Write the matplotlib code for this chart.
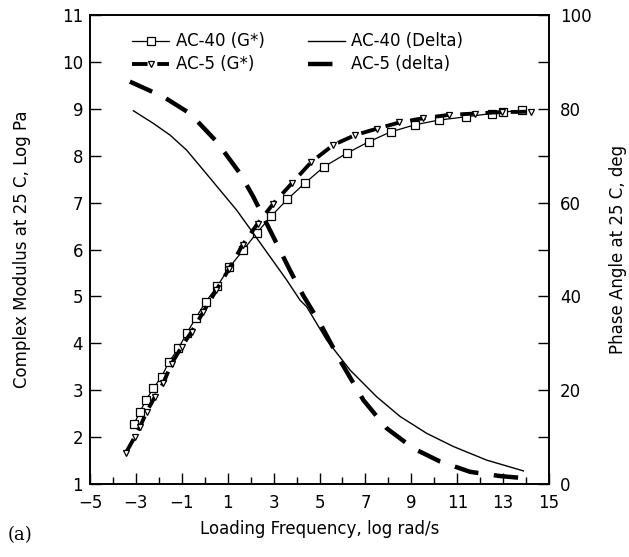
import numpy as np
import matplotlib
matplotlib.use("Agg")
import matplotlib.pyplot as plt
from matplotlib.ticker import MultipleLocator

# AC-40 complex modulus (log Pa) vs loading frequency (log rad/s)
ac40_gx = [-3.07, -2.82, -2.56, -2.24, -1.88, -1.55, -1.15, -0.79, -0.38, 0.05,
           0.55, 1.07, 1.68, 2.26, 2.89, 3.60, 4.37, 5.21, 6.18, 7.15, 8.11,
           9.16, 10.2, 11.37, 12.5, 13.0, 13.8]
ac40_gy = [2.29, 2.54, 2.79, 3.04, 3.29, 3.61, 3.89, 4.21, 4.55, 4.89,
           5.22, 5.62, 5.99, 6.35, 6.71, 7.07, 7.42, 7.77, 8.05, 8.30, 8.51,
           8.66, 8.76, 8.83, 8.90, 8.93, 8.97]

# AC-5 complex modulus
ac5_gx = [-3.43, -3.04, -2.82, -2.53, -2.17, -1.81, -1.44, -1.0, -0.57, -0.06,
          0.5, 1.05, 1.65, 2.3, 2.99, 3.79, 4.65, 5.6, 6.55, 7.52, 8.48,
          9.52, 10.62, 11.77, 12.93, 14.2]
ac5_gy = [1.67, 2.01, 2.22, 2.54, 2.86, 3.15, 3.57, 3.93, 4.25, 4.67,
          5.13, 5.58, 6.10, 6.55, 6.98, 7.41, 7.87, 8.23, 8.44, 8.58, 8.71,
          8.80, 8.87, 8.90, 8.93, 8.94]

# phase angle (deg)
ac40_dx = [-3.11, -2.24, -1.51, -0.79, -0.07, 0.66, 1.39, 2.11, 2.84, 3.57,
           4.15, 4.44, 5.31, 6.33, 7.49, 8.51, 9.67, 10.83, 12.28, 13.88]
ac40_dy = [79.6, 76.9, 74.4, 71.2, 67.0, 62.7, 58.4, 53.5, 48.5, 43.5,
           39.2, 37.8, 30.7, 24.3, 18.6, 14.4, 10.8, 8.0, 5.1, 2.8]

ac5_dx = [-3.26, -1.81, -0.64, 0.52, 1.54, 2.11, 2.55, 3.13, 3.71, 4.29, 5.02,
          5.89, 6.91, 7.92, 9.09, 10.25, 11.56, 12.86, 14.03]
ac5_dy = [85.8, 82.6, 79.0, 73.0, 66.2, 61.3, 57.0, 51.3, 45.6, 40.2, 34.3,
          26.4, 17.9, 11.9, 7.6, 4.8, 2.6, 1.7, 1.2]

plt.rcParams['font.family'] = 'DejaVu Sans'

fig = plt.figure(figsize=(6.29, 5.57), dpi=100)
ax = fig.add_axes([0.143, 0.131, 0.730, 0.842])
ax2 = ax.twinx()

l1, = ax.plot(ac40_gx, ac40_gy, color='black', lw=0.9, marker='s', ms=5.5,
              mfc='white', mec='black', mew=0.9, label='AC-40 (G*)')
l3, = ax.plot(ac5_gx, ac5_gy, color='black', lw=2.8, ls=(0, (4, 2.5)),
              marker='v', ms=4, mfc='white', mec='black', mew=0.9,
              label='AC-5 (G*)')
l2, = ax2.plot(ac40_dx, ac40_dy, color='black', lw=1.0, label='AC-40 (Delta)')
l4, = ax2.plot(ac5_dx, ac5_dy, color='black', lw=3.2, ls=(0, (5.5, 3.5)),
               label='AC-5 (delta)')

ax.set_xlim(-5, 15)
ax.set_ylim(1, 11)
ax2.set_ylim(0, 100)

ax.set_xticks(np.arange(-5, 16, 2))
ax.xaxis.set_minor_locator(MultipleLocator(1))
ax.yaxis.set_major_locator(MultipleLocator(1))
ax2.yaxis.set_major_locator(MultipleLocator(20))
ax2.yaxis.set_minor_locator(MultipleLocator(10))

ax.tick_params(axis='x', which='major', direction='in', length=8, width=1,
               labelsize=12, pad=7)
ax.tick_params(axis='x', which='minor', direction='in', length=5, width=1)
ax.tick_params(axis='y', which='major', direction='in', length=8, width=1,
               labelsize=12, right=False, pad=5)
ax2.tick_params(axis='y', which='major', direction='in', length=8, width=1,
                labelsize=12, pad=8)
ax2.tick_params(axis='y', which='minor', direction='in', length=8, width=1)

for a in (ax, ax2):
    for s in a.spines.values():
        s.set_linewidth(1.2)

ax.set_xlabel('Loading Frequency, log rad/s', fontsize=12, labelpad=6)
ax.set_ylabel('Complex Modulus at 25 C, Log Pa', fontsize=12, labelpad=22)
ax2.set_ylabel('Phase Angle at 25 C, deg', fontsize=12, rotation=90,
               labelpad=12)

leg = ax.legend(handles=[l1, l3, l2, l4], ncol=2, loc='upper left',
                bbox_to_anchor=(0.06, 0.995), frameon=False, fontsize=12,
                handlelength=2.2, handletextpad=0.4, columnspacing=2.6,
                labelspacing=0.3)

fig.text(0.012, 0.03, '(a)', fontsize=13, family='serif')

fig.savefig('out.png', dpi=100)
